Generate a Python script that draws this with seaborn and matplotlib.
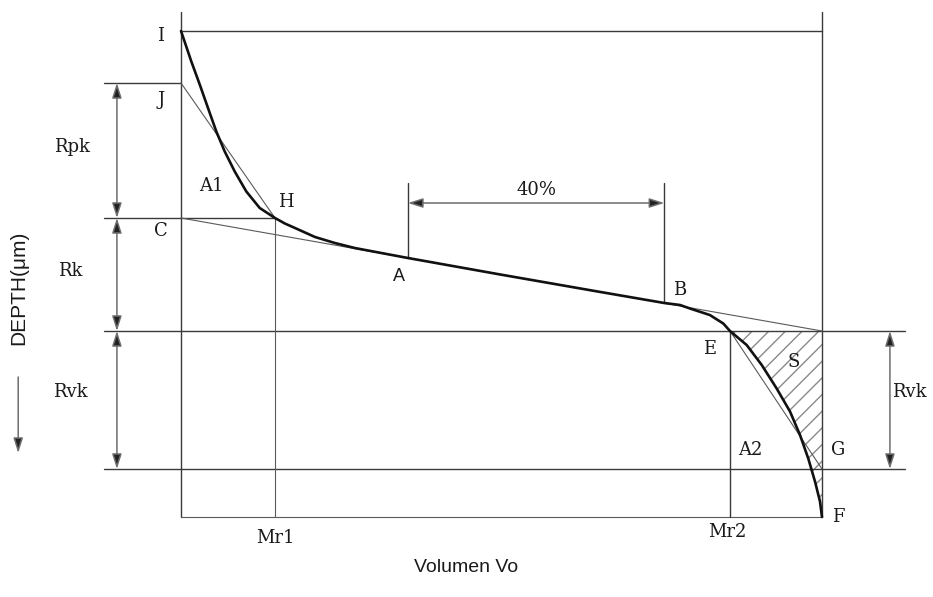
import numpy as np
import pandas as pd
import matplotlib
matplotlib.use("Agg")
import matplotlib.pyplot as plt
import seaborn as sns

# Abbott-Firestone (bearing ratio) curve, material ratio in %, depth in arbitrary units
curve_ratio = [0.0, 1.61, 2.92, 4.21, 5.51, 6.82, 8.38, 10.19, 12.28, 14.66,
               16.2, 17.78, 20.9, 24.0, 27.1, 35.4, 49.8, 65.0, 75.4, 77.85,
               79.4, 82.5, 84.6, 85.65, 88.25, 90.6, 92.93, 95.01, 96.57,
               97.86, 98.91, 99.69, 100.0]
curve_depth = [0.0, 0.61, 1.07, 1.54, 2.01, 2.41, 2.81, 3.21, 3.54, 3.74,
               3.85, 3.94, 4.12, 4.24, 4.34, 4.54, 4.87, 5.21, 5.44, 5.48,
               5.55, 5.68, 5.85, 6.0, 6.28, 6.68, 7.15, 7.61, 8.08,
               8.55, 9.01, 9.41, 9.72]

# characteristic depths
depth_I = 0.0
depth_J = 1.04
depth_C = 3.74
depth_E = 6.0
depth_G = 8.76
depth_F = 9.72

# characteristic material ratios
ratio_Mr1 = 14.66
ratio_Mr2 = 85.65
ratio_A = 35.4
ratio_B = 75.4
ratio_end = 100.0

sns.set_style("white")
plt.rcParams["hatch.linewidth"] = 1.0

fig = plt.figure(figsize=(9.33, 5.97), dpi=100)
ax = fig.add_axes([0, 0, 1, 1])

frame_c = "#3a3a3a"
thin_c = "#5a5a5a"
arrow_c = "#6e6e6e"
lw_frame = 1.0
lw_thin = 0.8

# frame of the diagram
ax.plot([0, 0], [-0.38, depth_F], color=frame_c, lw=lw_frame)
ax.plot([ratio_end, ratio_end], [-0.38, depth_F], color=frame_c, lw=lw_frame)
ax.plot([0, ratio_end], [depth_I, depth_I], color=frame_c, lw=lw_frame)
ax.plot([0, ratio_end], [depth_F, depth_F], color=thin_c, lw=lw_thin)

# horizontal reference levels
left_ext = -12.0
right_ext = 112.9
ax.plot([left_ext, 0], [depth_J, depth_J], color=frame_c, lw=lw_frame)
ax.plot([left_ext, ratio_Mr1], [depth_C, depth_C], color=frame_c, lw=lw_frame)
ax.plot([left_ext, right_ext], [depth_E, depth_E], color=frame_c, lw=lw_frame)
ax.plot([left_ext, right_ext], [depth_G, depth_G], color=frame_c, lw=lw_frame)

# vertical markers
i_a = curve_ratio.index(ratio_A)
i_b = curve_ratio.index(ratio_B)
ax.plot([ratio_Mr1, ratio_Mr1], [depth_C, depth_F], color=thin_c, lw=lw_thin)
ax.plot([ratio_Mr2, ratio_Mr2], [depth_E, depth_F], color=frame_c, lw=lw_frame)
ax.plot([ratio_A, ratio_A], [3.04, curve_depth[i_a]], color=frame_c, lw=lw_frame)
ax.plot([ratio_B, ratio_B], [3.04, curve_depth[i_b]], color=frame_c, lw=lw_frame)

# equivalent straight lines
ax.plot([0, ratio_Mr1], [depth_J, depth_C], color=thin_c, lw=lw_thin)
ax.plot([0, ratio_end], [depth_C, depth_E], color=thin_c, lw=lw_thin)
ax.plot([ratio_Mr2, ratio_end], [depth_E, depth_G], color=thin_c, lw=lw_thin)

# hatched valley area S
i_e = curve_ratio.index(ratio_Mr2)
ax.fill_betweenx(curve_depth[i_e:], curve_ratio[i_e:], ratio_end,
                 facecolor="none", hatch="//", edgecolor="#8a8a8a", linewidth=0)

# the bearing curve itself
df = pd.DataFrame({"ratio": curve_ratio, "depth": curve_depth})
sns.lineplot(data=df, x="ratio", y="depth", sort=False, estimator=None,
             color="#111111", lw=1.9, ax=ax)
ax.set_xlim(-28.24, 117.32)
ax.set_ylim(11.32, -0.62)
ax.axis("off")


def dim_arrow(x0, y0, x1, y1, style="<|-|>"):
    ax.annotate("", xy=(x1, y1), xytext=(x0, y0),
                arrowprops=dict(arrowstyle=f"{style},head_length=0.75,head_width=0.24",
                                color=arrow_c, lw=1.1, mutation_scale=12,
                                shrinkA=0, shrinkB=0, fc="#222222"))


dim_arrow(-10.0, depth_J, -10.0, depth_C)
dim_arrow(-10.0, depth_C, -10.0, depth_E)
dim_arrow(-10.0, depth_E, -10.0, depth_G)
dim_arrow(110.6, depth_E, 110.6, depth_G)
dim_arrow(ratio_A, 3.44, ratio_B, 3.44)
dim_arrow(-25.4, 6.92, -25.4, 8.44, style="-|>")

serif = {"family": "DejaVu Serif", "size": 13, "color": "#1a1a1a"}
labels = [
    ("I", -3.12, 0.1), ("J", -3.12, 1.38), ("Rpk", -17.0, 2.32),
    ("A1", 4.68, 3.1), ("H", 16.4, 3.42), ("C", -3.12, 4.0),
    ("Rk", -17.3, 4.8), ("B", 77.85, 5.18), ("40%", 55.4, 3.18),
    ("E", 82.4, 6.36), ("S", 95.6, 6.62), ("Rvk", -17.3, 7.22),
    ("Rvk", 113.7, 7.22), ("A2", 88.8, 8.38), ("G", 102.5, 8.38),
    ("F", 102.5, 9.72), ("Mr2", 85.3, 10.02), ("Mr1", 14.8, 10.14),
]
for txt, x, y in labels:
    ax.text(x, y, txt, ha="center", va="center", fontdict=serif)

sans = {"family": "Liberation Sans", "color": "#1a1a1a"}
ax.text(34.0, 4.9, "A", ha="center", va="center", size=13, fontdict=sans)
ax.text(-25.3, 5.14, "DEPTH(μm)", ha="center", va="center", rotation=90,
        size=15, fontdict=sans)
ax.text(44.5, 10.72, "Volumen Vo", ha="center", va="center", size=14, fontdict=sans)

fig.savefig("out.png", dpi=100, facecolor="white")
